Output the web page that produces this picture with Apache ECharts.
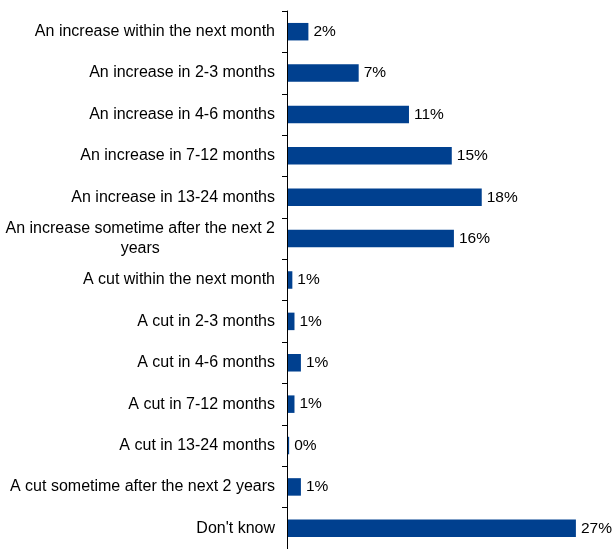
<!DOCTYPE html>
<html>
<head>
<meta charset="utf-8">
<script src="https://cdn.jsdelivr.net/npm/echarts@6/dist/echarts.min.js"></script>
<style>
  html, body { margin: 0; padding: 0; background: #fff; }
  #chart { width: 613px; height: 549px; }
</style>
</head>
<body>
<div id="chart"></div>
<script>
// categories, top to bottom
var categories = [
    'An increase within the next month',
    'An increase in 2-3 months',
    'An increase in 4-6 months',
    'An increase in 7-12 months',
    'An increase in 13-24 months',
    'An increase sometime after the next 2\nyears',
    'A cut within the next month',
    'A cut in 2-3 months',
    'A cut in 4-6 months',
    'A cut in 7-12 months',
    'A cut in 13-24 months',
    'A cut sometime after the next 2 years',
    "Don't know"
];
// percent of respondents (labels are rounded)
var values = [2.0, 6.7, 11.4, 15.4, 18.2, 15.6, 0.5, 0.7, 1.3, 0.7, 0.2, 1.3, 27.0];

var font = "'Liberation Sans', Arial, sans-serif";
var fs = 16;

var chart = echarts.init(document.getElementById('chart'));
var option = {
    animation: false,
    grid: {
        left: 287,
        right: 5,
        top: 11,
        bottom: -5.5
    },
    xAxis: {
        type: 'value',
        min: 0,
        max: 30,
        show: false
    },
    yAxis: {
        type: 'category',
        inverse: true,
        data: categories,
        z: 3,
        axisLine: { lineStyle: { color: '#000', width: 1 } },
        axisTick: { show: true, length: 5, lineStyle: { color: '#000' } },
        axisLabel: {
            margin: 12,
            color: '#000',
            fontSize: fs,
            fontFamily: font,
            lineHeight: 20,
            formatter: function (v) {
                var parts = v.split('\n');
                if (parts.length === 1) return '{t|' + v + '}';
                return '{t|' + parts[0] + '}\n{c|' + parts[1] + '}';
            },
            rich: {
                t: { fontSize: fs, fontFamily: font, color: '#000', lineHeight: 20 },
                c: { fontSize: fs, fontFamily: font, color: '#000', lineHeight: 20, align: 'center' }
            }
        }
    },
    series: [
        {
            type: 'bar',
            data: values,
            barWidth: 17.5,
            itemStyle: { color: '#00408F' },
            label: {
                show: true,
                position: 'right',
                distance: 5,
                color: '#000',
                fontSize: 15.5,
                fontFamily: font,
                formatter: function (p) { return Math.round(p.value) + '%'; }
            }
        }
    ]
};
chart.setOption(option);
</script>
</body>
</html>
